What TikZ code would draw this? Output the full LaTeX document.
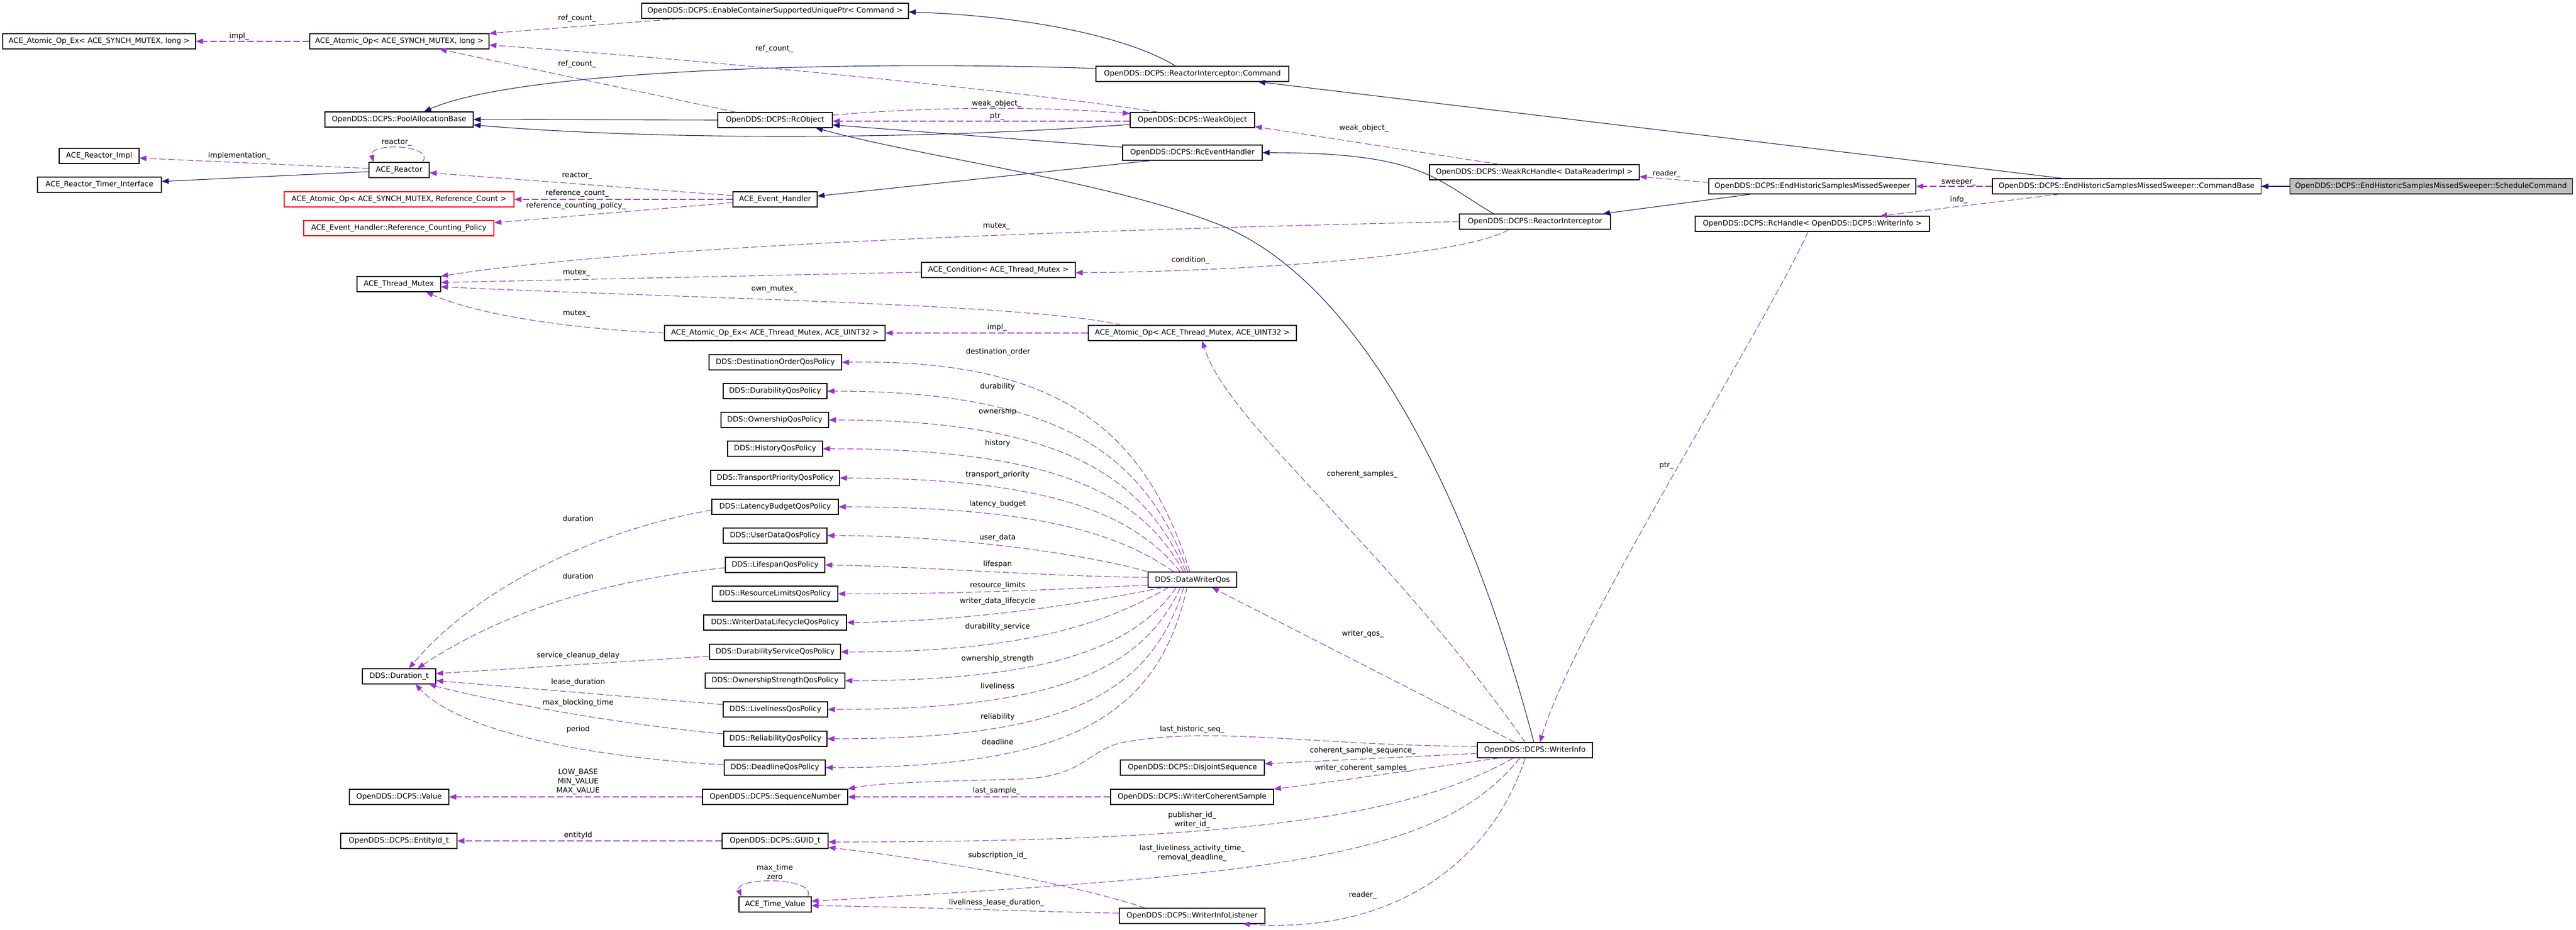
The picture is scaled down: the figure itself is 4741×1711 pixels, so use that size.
\documentclass[tikz,border=0pt]{standalone}
\usepackage{fontspec}
\setmainfont{DejaVu Sans}
\usetikzlibrary{arrows.meta}
\definecolor{inhc}{HTML}{191970}
\definecolor{usec}{HTML}{9A32CD}
\definecolor{boxred}{HTML}{FF0000}
\definecolor{mainfill}{HTML}{BFBFBF}
\begin{document}
\begin{tikzpicture}[x=1pt,y=-1pt,
  every node/.style={font=\fontsize{13.5pt}{17pt}\selectfont},
  cls/.style={draw=black, line width=1.1pt, fill=white, minimum height=28pt, minimum width=#1, inner sep=0pt},
  redcls/.style={cls=#1, draw=boxred},
  maincls/.style={cls=#1, fill=mainfill},
  inh/.style={draw=inhc, line width=1.1pt, -{Triangle[length=13pt,width=10pt]}},
  use/.style={draw=usec, line width=1.1pt, dash pattern=on 12pt off 5pt, -{Triangle[length=13pt,width=10pt]}},
  lbl/.style={inner sep=0pt, text height=10pt, text depth=3pt},
  ml/.style={inner sep=0pt, align=center}]
\fill[white] (0,0) rectangle (4741,1711);
\useasboundingbox (0,0) rectangle (4741,1711);
% ---------------- nodes ----------------
\node[cls=355] (aopexl) at (182.5,76) {ACE\_Atomic\_Op\_Ex< ACE\_SYNCH\_MUTEX, long >};
\node[cls=330] (aopl) at (735,76) {ACE\_Atomic\_Op< ACE\_SYNCH\_MUTEX, long >};
\node[cls=491] (ecsup) at (1426.5,20) {OpenDDS::DCPS::EnableContainerSupportedUniquePtr< Command >};
\node[cls=355] (cmd) at (2194.5,136) {OpenDDS::DCPS::ReactorInterceptor::Command};
\node[cls=273] (pab) at (734.5,220) {OpenDDS::DCPS::PoolAllocationBase};
\node[cls=211] (rco) at (1426.5,221) {OpenDDS::DCPS::RcObject};
\node[cls=229] (wo) at (2194.5,221) {OpenDDS::DCPS::WeakObject};
\node[cls=147] (rimpl) at (182.5,287) {ACE\_Reactor\_Impl};
\node[cls=228] (rti) at (183,340) {ACE\_Reactor\_Timer\_Interface};
\node[cls=111] (reactor) at (734.5,313) {ACE\_Reactor};
\node[cls=257] (reh) at (2194.5,281) {OpenDDS::DCPS::RcEventHandler};
\node[cls=386] (weh) at (2824,317) {OpenDDS::DCPS::WeakRcHandle< DataReaderImpl >};
\node[cls=381] (sweeper) at (3335.5,343) {OpenDDS::DCPS::EndHistoricSamplesMissedSweeper};
\node[cls=494] (cb) at (3914,343) {OpenDDS::DCPS::EndHistoricSamplesMissedSweeper::CommandBase};
\node[maincls=520] (sc) at (4474,343) {OpenDDS::DCPS::EndHistoricSamplesMissedSweeper::ScheduleCommand};
\node[redcls=423] (aoprc) at (734.5,367) {ACE\_Atomic\_Op< ACE\_SYNCH\_MUTEX, Reference\_Count >};
\node[cls=155] (aeh) at (1426.5,367) {ACE\_Event\_Handler};
\node[cls=278] (ri) at (2825,408) {OpenDDS::DCPS::ReactorInterceptor};
\node[cls=431] (rch) at (3335.5,412) {OpenDDS::DCPS::RcHandle< OpenDDS::DCPS::WriterInfo >};
\node[redcls=350] (rcp) at (734,420) {ACE\_Event\_Handler::Reference\_Counting\_Policy};
\node[cls=283] (cond) at (1837.5,497) {ACE\_Condition< ACE\_Thread\_Mutex >};
\node[cls=154] (atm) at (734,523) {ACE\_Thread\_Mutex};
\node[cls=406] (aopext) at (1426,613) {ACE\_Atomic\_Op\_Ex< ACE\_Thread\_Mutex, ACE\_UINT32 >};
\node[cls=383] (aopt) at (2194.5,613) {ACE\_Atomic\_Op< ACE\_Thread\_Mutex, ACE\_UINT32 >};
\node[cls=244] (dest) at (1427,667) {DDS::DestinationOrderQosPolicy};
\node[cls=191] (dur) at (1426.5,720) {DDS::DurabilityQosPolicy};
\node[cls=198] (own) at (1426,773) {DDS::OwnershipQosPolicy};
\node[cls=175] (hist) at (1426.5,826) {DDS::HistoryQosPolicy};
\node[cls=237] (tp) at (1426.5,880) {DDS::TransportPriorityQosPolicy};
\node[cls=233] (lb) at (1426.5,933) {DDS::LatencyBudgetQosPolicy};
\node[cls=191] (ud) at (1426.5,986) {DDS::UserDataQosPolicy};
\node[cls=183] (ls) at (1426.5,1040) {DDS::LifespanQosPolicy};
\node[cls=231] (rl) at (1426.5,1093) {DDS::ResourceLimitsQosPolicy};
\node[cls=263] (wdl) at (1426.5,1146) {DDS::WriterDataLifecycleQosPolicy};
\node[cls=241] (ds) at (1426.5,1200) {DDS::DurabilityServiceQosPolicy};
\node[cls=257] (os) at (1426.5,1253) {DDS::OwnershipStrengthQosPolicy};
\node[cls=192] (lv) at (1427,1306) {DDS::LivelinessQosPolicy};
\node[cls=190] (rel) at (1427,1360) {DDS::ReliabilityQosPolicy};
\node[cls=186] (dl) at (1426,1413) {DDS::DeadlineQosPolicy};
\node[cls=267] (sn) at (1426.5,1467) {OpenDDS::DCPS::SequenceNumber};
\node[cls=195] (guid) at (1426.5,1548) {OpenDDS::DCPS::GUID\_t};
\node[cls=133] (tv) at (1426.5,1665) {ACE\_Time\_Value};
\node[cls=163] (dwq) at (2194.5,1067) {DDS::DataWriterQos};
\node[cls=135] (durt) at (734.5,1245) {DDS::Duration\_t};
\node[cls=183] (val) at (734.5,1467) {OpenDDS::DCPS::Value};
\node[cls=214] (eid) at (734,1548) {OpenDDS::DCPS::EntityId\_t};
\node[cls=265] (djs) at (2194.5,1413) {OpenDDS::DCPS::DisjointSequence};
\node[cls=300] (wcs) at (2194,1467) {OpenDDS::DCPS::WriterCoherentSample};
\node[cls=268] (wil) at (2194,1686) {OpenDDS::DCPS::WriterInfoListener};
\node[cls=212] (wi) at (2825,1381) {OpenDDS::DCPS::WriterInfo};
% ---------------- inheritance ----------------
\draw[inh] (sc.west) -- (cb.east);
\draw[inh] ([xshift=-117pt]cb.north) -- ([xshift=121pt]cmd.south);
\draw[inh] ([xshift=-113pt]sweeper.south) -- ([xshift=125pt]ri.north);
\draw[inh] ([xshift=-76pt]ri.north) .. controls (2640,330) and (2620,281) .. (reh.east);
\draw[inh] ([xshift=-76pt]reh.south) -- ([yshift=6pt]aeh.east);
\draw[inh] ([yshift=10pt]reh.west) -- ([yshift=-9pt]rco.east);
\draw[inh] (rco.west) -- (pab.east);
\draw[inh] ([yshift=-8pt]wo.west) .. controls (1700,258) and (1200,258) .. ([yshift=-10pt]pab.east);
\draw[inh] ([xshift=-31pt]cmd.north) .. controls (2080,70) and (1900,30) .. ([yshift=-2pt]ecsup.east);
\draw[inh] ([yshift=10pt]cmd.west) .. controls (1550,110) and (950,130) .. ([xshift=46pt]pab.north);
\draw[inh] ([yshift=-3pt]reactor.west) -- ([yshift=6pt]rti.east);
\draw[inh] ([xshift=-2pt]wi.north) .. controls (2700,900) and (2500,520) .. (2250,416)
   .. controls (2050,335) and (1700,290) .. ([xshift=75pt]rco.south);
% ---------------- usage ----------------
\draw[use] (cb.west) -- (sweeper.east);
\draw[use] ([xshift=-123pt]cb.south) -- ([xshift=125pt]rch.north);
\draw[use] ([yshift=7pt]sweeper.west) -- ([yshift=-8pt]weh.east);
\draw[use] ([xshift=-65pt]weh.north) -- ([yshift=-12pt]wo.east);
\draw[use] (ri.west) .. controls (1900,425) and (1150,455) .. (atm.north east);
\draw[use] ([xshift=-48pt]ri.south) .. controls (2700,470) and (2300,500) .. ([yshift=-5pt]cond.east);
\draw[use] ([yshift=-4pt]cond.west) -- ([yshift=3pt]atm.east);
\draw[use] ([xshift=-130pt]aopt.north) .. controls (1900,560) and (1300,550) .. ([yshift=-5pt]atm.east);
\draw[use] (aopt.west) -- (aopext.east);
\draw[use] (aopext.west) .. controls (1050,605) and (880,580) .. ([xshift=50pt]atm.south);
\draw[use] ([yshift=9pt]rco.east) .. controls (1700,197) and (1900,195) .. ([yshift=12pt]wo.west);
\draw[use] ([yshift=-2pt]wo.west) -- ([yshift=-2pt]rco.east);
\draw[use] ([xshift=-178pt]ecsup.south) -- (aopl.north east);
\draw[use] ([xshift=-63pt]wo.north) .. controls (1900,170) and (1300,110) .. ([yshift=-7pt]aopl.east);
\draw[use] ([xshift=-72pt]rco.north) -- ([xshift=74pt]aopl.south);
\draw[use] (aopl.west) -- (aopexl.east);
\draw[use] ([yshift=3pt]reactor.west) -- ([yshift=-4pt]rimpl.east);
\draw[use] ([xshift=43pt]reactor.north) .. controls (802,266) and (678,262) .. ([xshift=-47pt]reactor.north);
\draw[use] ([yshift=7pt]aeh.west) -- ([yshift=-5pt]reactor.east);
\draw[use] (aeh.west) -- (aoprc.east);
\draw[use] ([yshift=-6pt]aeh.west) -- ([yshift=10pt]rcp.east);
% DataWriterQos fan
\draw[use] ([xshift=-4.5pt]dwq.north) .. controls (2110,800) and (1960,660) .. (dest.east);
\draw[use] ([xshift=-8.5pt]dwq.north) .. controls (2110,840) and (1955,720) .. (dur.east);
\draw[use] ([xshift=-12.5pt]dwq.north) .. controls (2105,875) and (1950,773) .. (own.east);
\draw[use] ([xshift=-16.5pt]dwq.north) .. controls (2100,910) and (1945,826) .. (hist.east);
\draw[use] ([xshift=-22.5pt]dwq.north) .. controls (2090,950) and (1940,880) .. (tp.east);
\draw[use] ([xshift=-34.5pt]dwq.north) .. controls (2070,990) and (1930,933) .. (lb.east);
\draw[use] (dwq.north west) .. controls (2000,1020) and (1750,985) .. (ud.east);
\draw[use] ([yshift=4pt]dwq.west) .. controls (1900,1060) and (1700,1043) .. (ls.east);
\draw[use] ([yshift=-10pt]dwq.west) .. controls (1950,1085) and (1750,1094) .. (rl.east);
\draw[use] ([xshift=-55pt]dwq.south) .. controls (2000,1110) and (1800,1143) .. (wdl.east);
\draw[use] ([xshift=-44pt]dwq.south) .. controls (2030,1150) and (1880,1201) .. (ds.east);
\draw[use] ([xshift=-30pt]dwq.south) .. controls (2090,1190) and (1930,1253) .. (os.east);
\draw[use] ([xshift=-22pt]dwq.south) .. controls (2100,1240) and (1930,1306) .. (lv.east);
\draw[use] ([xshift=-16pt]dwq.south) .. controls (2115,1290) and (1940,1360) .. (rel.east);
\draw[use] ([xshift=-10pt]dwq.south) .. controls (2130,1330) and (1950,1413) .. (dl.east);
% Duration_t
\draw[use] ([yshift=-6pt]lb.west) .. controls (1100,975) and (880,1080) .. ([xshift=18pt]durt.north);
\draw[use] ([yshift=-5pt]ls.west) .. controls (1150,1065) and (950,1110) .. ([xshift=34pt]durt.north);
\draw[use] ([yshift=-8pt]ds.west) -- ([yshift=5pt]durt.east);
\draw[use] ([yshift=9pt]lv.west) -- ([yshift=-8pt]durt.east);
\draw[use] ([yshift=9pt]rel.west) .. controls (1150,1335) and (900,1290) .. ([xshift=55pt]durt.south);
\draw[use] ([yshift=5pt]dl.west) .. controls (1100,1395) and (850,1350) .. ([xshift=30pt]durt.south);
% lower part
\draw[use] (sn.west) -- (val.east);
\draw[use] (wcs.west) -- (sn.east);
\draw[use] (guid.west) -- (eid.east);
\draw[use] ([yshift=7pt]wi.west) .. controls (2400,1372) and (2230,1335) .. (2060,1368)
   .. controls (2000,1385) and (1990,1430) .. (1880,1434)
   .. controls (1750,1438) and (1620,1440) .. (sn.north east);
\draw[use] ([yshift=-6pt]wi.west) -- ([yshift=7pt]djs.east);
\draw[use] ([xshift=-66pt]wi.south) .. controls (2650,1410) and (2450,1440) .. (wcs.north east);
\draw[use] ([xshift=-40pt]wi.south) .. controls (2600,1500) and (2300,1550) .. ([yshift=-2pt]guid.east);
\draw[use] ([xshift=-28pt]wi.south) .. controls (2650,1580) and (2350,1610) .. ([yshift=6pt]tv.east);
\draw[use] ([xshift=-18pt]wi.south) .. controls (2740,1600) and (2550,1720) .. ([xshift=93pt]wil.south);
\draw[use] ([xshift=-86pt]wil.north) .. controls (1950,1620) and (1700,1580) .. ([yshift=-12pt]guid.east);
\draw[use] ([yshift=5pt]wil.west) .. controls (1900,1678) and (1700,1670) .. ([yshift=-2pt]tv.east);
\draw[use] ([xshift=60pt]tv.north) .. controls (1505,1614) and (1350,1614) .. ([xshift=-62pt]tv.north);
\draw[use] ([xshift=-37pt]wi.north) -- ([xshift=36pt]dwq.south);
\draw[use] ([xshift=-18pt]wi.north) .. controls (2550,1000) and (2260,780) .. ([xshift=18pt]aopt.south);
\draw[use] ([xshift=-8pt]rch.south) .. controls (3250,600) and (2900,1150) .. ([xshift=9pt]wi.north);
% ---------------- labels ----------------
\node[lbl] (l01) at (440,67) {impl\_};
\node[lbl] (l02) at (1062,34) {ref\_count\_};
\node[lbl] (l03) at (1425,90) {ref\_count\_};
\node[lbl] (l04) at (1062,118) {ref\_count\_};
\node[lbl] (l05) at (1834,191) {weak\_object\_};
\node[lbl] (l06) at (1835,214) {ptr\_};
\node[lbl] (l07) at (730,262) {reactor\_};
\node[lbl] (l08) at (440,287) {implementation\_};
\node[lbl] (l09) at (1062,323) {reactor\_};
\node[lbl] (l10) at (1062,356) {reference\_count\_};
\node[lbl] (l11) at (1060,379) {reference\_counting\_policy\_};
\node[lbl] (l12) at (2510,236) {weak\_object\_};
\node[lbl] (l13) at (3067,320) {reader\_};
\node[lbl] (l14) at (3605,335) {sweeper\_};
\node[lbl] (l15) at (3605,368) {info\_};
\node[lbl] (l16) at (1834,416) {mutex\_};
\node[lbl] (l17) at (2191,479) {condition\_};
\node[lbl] (l18) at (1061,502) {mutex\_};
\node[lbl] (l19) at (1425,532) {own\_mutex\_};
\node[lbl] (l20) at (1061,577) {mutex\_};
\node[lbl] (l21) at (1835,603) {impl\_};
\node[lbl] (l22) at (1837,648) {destination\_order};
\node[lbl] (l23) at (1836,712) {durability};
\node[lbl] (l24) at (1836,758) {ownership};
\node[lbl] (l25) at (1836,816) {history};
\node[lbl] (l26) at (1836,874) {transport\_priority};
\node[lbl] (l27) at (1836,928) {latency\_budget};
\node[lbl] (l28) at (1836,990) {user\_data};
\node[lbl] (l29) at (1836,1039) {lifespan};
\node[lbl] (l30) at (1836,1078) {resource\_limits};
\node[lbl] (l31) at (1836,1107) {writer\_data\_lifecycle};
\node[lbl] (l32) at (1836,1154) {durability\_service};
\node[lbl] (l33) at (1836,1213) {ownership\_strength};
\node[lbl] (l34) at (1836,1264) {liveliness};
\node[lbl] (l35) at (1836,1320) {reliability};
\node[lbl] (l36) at (1836,1367) {deadline};
\node[lbl] (l37) at (2507,873) {coherent\_samples\_};
\node[lbl] (l38) at (3067,857) {ptr\_};
\node[lbl] (l39) at (1064,956) {duration};
\node[lbl] (l40) at (1064,1062) {duration};
\node[lbl] (l41) at (2508,1167) {writer\_qos\_};
\node[lbl] (l42) at (1064,1207) {service\_cleanup\_delay};
\node[lbl] (l43) at (1064,1256) {lease\_duration};
\node[lbl] (l44) at (1064,1294) {max\_blocking\_time};
\node[lbl] (l45) at (1064,1343) {period};
\node[lbl] (l46) at (2194,1343) {last\_historic\_seq\_};
\node[lbl] (l47) at (2508,1382) {coherent\_sample\_sequence\_};
\node[lbl] (l48) at (2508,1414) {writer\_coherent\_samples\_};
\node[ml] (l49) at (1064,1439) {LOW\_BASE\\MIN\_VALUE\\MAX\_VALUE};
\node[lbl] (l50) at (1834,1456) {last\_sample\_};
\node[ml] (l51) at (2194,1509) {publisher\_id\_\\writer\_id\_};
\node[lbl] (l52) at (1064,1538) {entityId};
\node[ml] (l53) at (2194,1570) {last\_liveliness\_activity\_time\_\\removal\_deadline\_};
\node[lbl] (l54) at (1836,1575) {subscription\_id\_};
\node[ml] (l55) at (1426,1605) {max\_time\\zero};
\node[lbl] (l56) at (2508,1648) {reader\_};
\node[lbl] (l57) at (1834,1662) {liveliness\_lease\_duration\_};
\end{tikzpicture}
\end{document}
